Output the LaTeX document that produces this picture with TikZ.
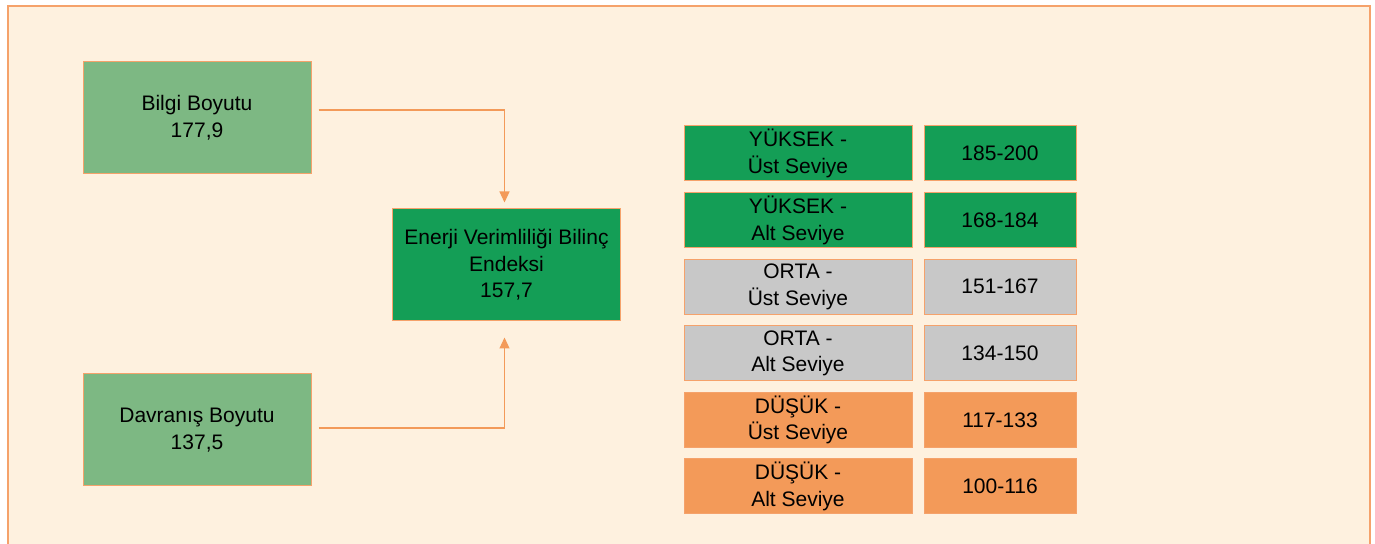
\documentclass[tikz,border=0pt]{standalone}
\usepackage{fontspec}
\setmainfont{Liberation Sans}
\usepackage{xcolor}
\usepackage{tikz}
\usetikzlibrary{arrows.meta,positioning}
\definecolor{cream}{HTML}{FEF1DF}
\definecolor{frameorange}{HTML}{F5A26B}
\definecolor{lightgreen}{HTML}{7DB883}
\definecolor{darkgreen}{HTML}{149E56}
\definecolor{levelgray}{HTML}{C8C8C8}
\definecolor{loworange}{HTML}{F39A59}
\definecolor{arroworange}{HTML}{F39A59}

\begin{document}
\begin{tikzpicture}[
  x=0.5pt, y=-0.5pt,
  every node/.style={font=\fontsize{10.5}{13.3}\selectfont},
  box/.style={draw=frameorange, line width=0.5pt, fill=lightgreen,
              minimum width=114pt, minimum height=56pt, align=center, inner sep=0pt},
  idx/.style={box, fill=darkgreen},
  lvl/.style={box, minimum width=114pt, minimum height=27.5pt},
  rng/.style={lvl, minimum width=76pt},
  hi/.style={fill=darkgreen},
  mid/.style={fill=levelgray},
  lo/.style={fill=loworange},
  ar/.style={-{Triangle[length=5.5pt,width=5pt]}, line width=0.6pt, draw=arroworange}
]
  \useasboundingbox (0,0) rectangle (1375,544);
  \draw[frameorange, line width=0.8pt, fill=cream] (8,6) rectangle (1370,570);

  % sol taraf: boyutlar ve endeks
  \node[box] (bilgi) at (197,118) {Bilgi Boyutu\\177,9};
  \node[box] (davranis) at (197,430) {Davranış Boyutu\\137,5};
  \node[idx] (endeks) at (506.5,265) {Enerji Verimliliği Bilinç\\Endeksi\\157,7};

  \draw[ar] ([xshift=3.5pt,yshift=4pt]bilgi.east) -| ([xshift=-1pt,yshift=3pt]endeks.north);
  \draw[ar] ([xshift=3.5pt,yshift=1pt]davranis.east) -| ([xshift=-1pt,yshift=-8pt]endeks.south);

  % sag taraf: seviye tablosu
  \node[lvl, hi] (l1) at (798,153.5) {YÜKSEK -\\Üst Seviye};
  \node[lvl, hi, below=5.3pt of l1] (l2) {YÜKSEK -\\Alt Seviye};
  \node[lvl, mid, below=5.3pt of l2] (l3) {ORTA -\\Üst Seviye};
  \node[lvl, mid, below=5.3pt of l3] (l4) {ORTA -\\Alt Seviye};
  \node[lvl, lo, below=5.3pt of l4] (l5) {DÜŞÜK -\\Üst Seviye};
  \node[lvl, lo, below=5.3pt of l5] (l6) {DÜŞÜK -\\Alt Seviye};

  \node[rng, hi, right=5.5pt of l1] (r1) {185-200};
  \node[rng, hi, right=5.5pt of l2] (r2) {168-184};
  \node[rng, mid, right=5.5pt of l3] (r3) {151-167};
  \node[rng, mid, right=5.5pt of l4] (r4) {134-150};
  \node[rng, lo, right=5.5pt of l5] (r5) {117-133};
  \node[rng, lo, right=5.5pt of l6] (r6) {100-116};
\end{tikzpicture}
\end{document}
